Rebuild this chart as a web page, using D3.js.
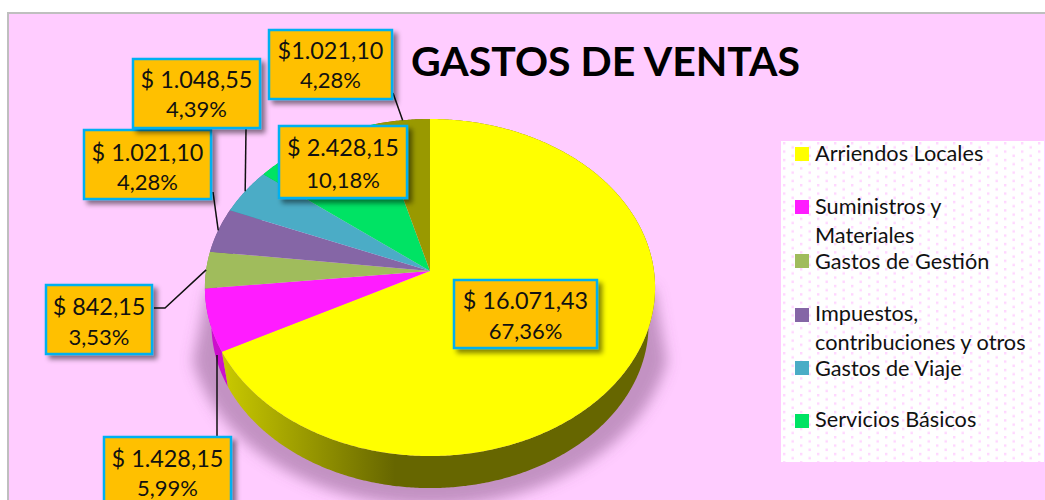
<!DOCTYPE html>
<html lang="es">
<head>
<meta charset="utf-8">
<title>Gastos de Ventas</title>
<script src="https://cdn.jsdelivr.net/npm/d3@7/dist/d3.min.js"></script>
<style>
html,body{margin:0;padding:0;background:#fff;}
svg{display:block;}
text{font-family:Lato,"Open Sans",sans-serif;fill:#111;}
</style>
</head>
<body>
<div id="chart"></div>
<script>
// ---- data ----
const categories = ["Arriendos Locales","Suministros y Materiales","Gastos de Gestión","Impuestos, contribuciones y otros","Gastos de Viaje","Servicios Básicos","Otros"];
const values = [16071.43,1428.15,842.15,1021.10,1048.55,2428.15,1021.10];
const valueLabels = ["$ 16.071,43","$ 1.428,15","$ 842,15","$ 1.021,10","$ 1.048,55","$ 2.428,15","$1.021,10"];
const percentLabels = ["67,36%","5,99%","3,53%","4,28%","4,39%","10,18%","4,28%"];
const sliceColors = ["#ffff00","#ff1cff","#a0bc5c","#8566a6","#4bacc6","#00e364","#999900"];
const legendLines = [["Arriendos Locales"],["Suministros y","Materiales"],["Gastos de Gestión"],["Impuestos,","contribuciones y otros"],["Gastos de Viaje"],["Servicios Básicos"]];

// ---- layout ----
const W = 1045, H = 500;
const title = "GASTOS DE VENTAS";
const legendBaselines = [[161],[214,243],[269],[321,350],[376],[427]];
const swatchTops = [147,200,254,308,361,414];
// label boxes, same order as the data: x0, y0, x1, y1
const boxes = [[453,279,598,349],[103,436,232,507],[45,284,153,355],[83,129,212,200],[132,58,261,129],[278,125,408,199],[268,29,393,100]];
const firstBase = [30,31,31,32,30,31,30];
const secondBase = [60,60,61,61,59,63,59];
// draw order of label boxes (later on top)
const boxOrder = [0,1,2,3,4,5,6];
// leader lines: start point(s) at the box; end on the slice's mid-angle rim unless overridden
const leaders = [null,{pts:[[217,436],[217,355]],rim:false},{pts:[[154,308],[165,308]],rim:true},{pts:[[213,192]],rim:true},{pts:[[246,129]],rim:true},null,{pts:[[393,93]],rim:true}];

const svg = d3.select("#chart").append("svg").attr("width",W).attr("height",H).attr("viewBox",`0 0 ${W} ${H}`);
const defs = svg.append("defs");

// perspective: the near side of the pie is drawn larger than the far side
const k = 0.098;
const xScale = d3.scaleLinear().domain([-1,1]).range([430-224,430+224]);
const yScale = d3.scaleLinear().domain([-1,1]).range([271-166.9,271+166.9]);
function project(theta,r=1,sc=1,dx=0,dy=0){
  const X = r*Math.sin(theta), Y = -r*Math.cos(theta), d = 1-k*Y;
  const x0 = xScale(0), y0 = yScale(0);
  return [x0+dx+sc*(xScale(X/d)-x0), y0+dy+sc*(yScale(Y/d)-y0)];
}
function arcPts(a0,a1,sc=1,dx=0,dy=0){
  const n = Math.max(2,Math.ceil((a1-a0)/(Math.PI/360)));
  return d3.range(n+1).map(i=>project(a0+(a1-a0)*i/n,1,sc,dx,dy));
}
const line = d3.line();
const closed = pts => line(pts)+"Z";

// defs
const pat = defs.append("pattern").attr("id","dots").attr("patternUnits","userSpaceOnUse")
  .attr("x",781+2).attr("y",141+1).attr("width",17).attr("height",8.4);
pat.append("rect").attr("width",17).attr("height",8.4).attr("fill","#fff");
pat.append("rect").attr("x",0).attr("y",0).attr("width",2.4).attr("height",2.4).attr("fill","#ffd6ff");
pat.append("rect").attr("x",8.5).attr("y",4.2).attr("width",2.4).attr("height",2.4).attr("fill","#ffd6ff");

const wg = defs.append("linearGradient").attr("id","wall").attr("gradientUnits","userSpaceOnUse")
  .attr("x1",225).attr("x2",395).attr("y1",0).attr("y2",0);
wg.append("stop").attr("offset",0).attr("stop-color","#c8c800");
wg.append("stop").attr("offset",1).attr("stop-color","#666600");

const blur = defs.append("filter").attr("id","soft").attr("filterUnits","userSpaceOnUse")
  .attr("x",120).attr("y",200).attr("width",640).attr("height",400);
blur.append("feGaussianBlur").attr("stdDeviation",7);
const ds = defs.append("filter").attr("id","boxShadow").attr("x","-20%").attr("y","-20%").attr("width","140%").attr("height","150%");
ds.append("feDropShadow").attr("dx",4).attr("dy",4).attr("stdDeviation",2.5).attr("flood-color","#000").attr("flood-opacity",0.48);
defs.append("clipPath").attr("id","shadowClip").append("path")
  .attr("d",closed([[208,288],[186,395],[186,H+60],[678,H+60],[674,400],[654,288]]));

// plot background
svg.append("rect").attr("x",8).attr("y",13).attr("width",W).attr("height",H).attr("fill","#ffccff").attr("stroke","#bfbfbf").attr("stroke-width",2);

// legend
svg.append("rect").attr("x",781).attr("y",141).attr("width",263).attr("height",321).attr("fill","url(#dots)");
const lg = svg.append("g").attr("class","legend");
legendLines.forEach((lines,i)=>{
  lg.append("rect").attr("x",795).attr("y",swatchTops[i]).attr("width",14).attr("height",14).attr("fill",sliceColors[i]);
  lines.forEach((t,j)=>lg.append("text").attr("x",815).attr("y",legendBaselines[i][j]).attr("font-size",21.7).text(t));
});

// title
svg.append("text").attr("x",605.5).attr("y",75.5).attr("text-anchor","middle").attr("font-size",41).attr("font-weight",700).style("fill","#000").text(title);

// pie
const arcs = d3.pie().sort(null).value(d=>d).startAngle(0).endAngle(2*Math.PI)(values);

// soft shadow beneath pie
svg.append("g").attr("filter","url(#soft)").append("path")
  .attr("clip-path","url(#shadowClip)")
  .attr("d",closed(arcPts(0,2*Math.PI,1.075,0,36)))
  .attr("fill","#7a4a7a").attr("fill-opacity",0.45);

const wallColors = ["url(#wall)","#cc10cc","#7f9647","#6a5488","#3c8a9e","#00b550","#666600"];
const lowerSc = 0.971, lowerDy = 37.4;
const pieG = svg.append("g");
// side walls, rear slices first
[6,5,4,3,2,1,0].forEach(i=>{
  const a = arcs[i];
  const top = arcPts(a.startAngle,a.endAngle);
  const low = arcPts(a.startAngle,a.endAngle,lowerSc,0,lowerDy).reverse();
  pieG.append("path").attr("d",closed(top.concat(low))).attr("fill",wallColors[i]);
});
// top faces
arcs.forEach((a,i)=>{
  const pts = [project(0,0)].concat(arcPts(a.startAngle,a.endAngle));
  pieG.append("path").attr("d",closed(pts)).attr("fill",sliceColors[i]);
});

// leader lines
leaders.forEach((l,i)=>{
  if(!l) return;
  const pts = l.pts.slice();
  if(l.rim) pts.push(project((arcs[i].startAngle+arcs[i].endAngle)/2));
  svg.append("path").attr("d",line(pts)).attr("fill","none").attr("stroke","#111").attr("stroke-width",1.5);
});

// data labels
boxOrder.forEach(i=>{
  const [x0,y0,x1,y1] = boxes[i];
  const g = svg.append("g");
  g.append("rect").attr("x",x0+1).attr("y",y0+1).attr("width",x1-x0-2).attr("height",y1-y0-2)
    .attr("fill","#ffc000").attr("stroke","#00b0f0").attr("stroke-width",2.5).attr("filter","url(#boxShadow)");
  const cx = (x0+x1)/2;
  g.append("text").attr("x",cx).attr("y",y0+firstBase[i]).attr("text-anchor","middle").attr("font-size",23.4).text(valueLabels[i]);
  g.append("text").attr("x",cx).attr("y",y0+secondBase[i]).attr("text-anchor","middle").attr("font-size",22).text(percentLabels[i]);
});
</script>
</body>
</html>
